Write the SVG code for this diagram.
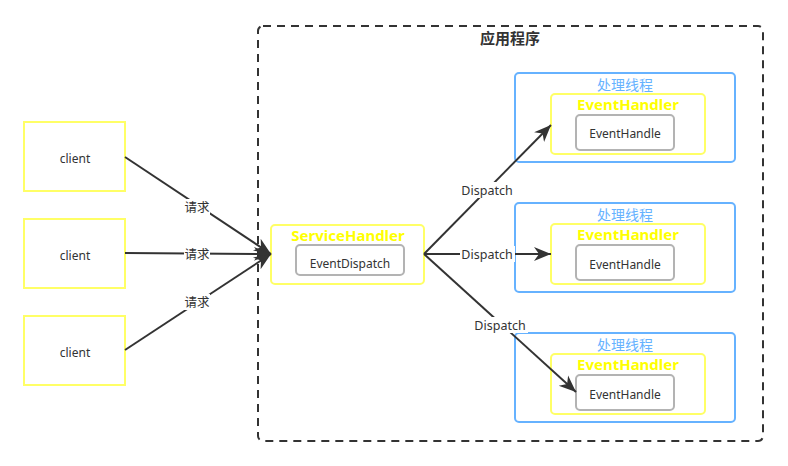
<svg xmlns="http://www.w3.org/2000/svg" width="788" height="466" viewBox="0 0 788 466">
<style>
text{font-family:"Noto Sans","Noto Sans CJK SC",sans-serif;text-anchor:middle;dominant-baseline:central}
.client{fill:#fff;stroke:#ffff66;stroke-width:2}
.yel{fill:#fff;stroke:#ffff66;stroke-width:2}
.blue{fill:#fff;stroke:#66b2ff;stroke-width:2}
.gray{fill:#fff;stroke:#b3b3b3;stroke-width:2}
.t12{font-size:12px;fill:#333}
.yt{font-size:15px;font-weight:bold;fill:#ffff00}
.bt{font-size:14px;fill:#66b2ff}
.edge{stroke:#333;stroke-width:2;fill:none}
.lbl{font-size:12.5px;fill:#333}
.lblbg{fill:#fff}
</style>
<defs>
<marker id="ahb" markerWidth="18" markerHeight="18" refX="17" refY="9" orient="auto" markerUnits="userSpaceOnUse" viewBox="0 0 18 18">
<path d="M0,2 L17,9 L0,16 L5,9 Z" fill="#333"/>
</marker>
</defs>
<g id="app">
<rect x="258" y="26" width="505" height="415" rx="5" fill="none" stroke="#333" stroke-width="2" stroke-dasharray="8 6"/>
<text x="510" y="38" style="font-size:15px;font-weight:bold;fill:#333">应用程序</text>
</g>
<g id="client1"><rect class="client" x="24" y="122" width="101" height="69"/><text class="t12" x="75" y="158">client</text></g>
<g id="client2"><rect class="client" x="24" y="219" width="101" height="69"/><text class="t12" x="75" y="255">client</text></g>
<g id="client3"><rect class="client" x="24" y="316" width="101" height="69"/><text class="t12" x="75" y="352">client</text></g>
<g id="serviceHandler">
<rect class="yel" x="271" y="225" width="153" height="59" rx="4"/>
<text class="yt" x="348" y="235">ServiceHandler</text>
<rect class="gray" x="296" y="245" width="108" height="30" rx="4"/>
<text class="t12" x="350" y="263">EventDispatch</text>
</g>
<g id="thread1">
<rect class="blue" x="515" y="73" width="220" height="89" rx="4"/>
<text class="bt" x="625" y="84">处理线程</text>
<rect class="yel" x="551" y="94" width="154" height="60" rx="4"/>
<text class="yt" x="628" y="104">EventHandler</text>
<rect class="gray" x="576" y="115" width="98" height="35" rx="4"/>
<text class="t12" x="625" y="133">EventHandle</text>
</g>
<g id="thread2">
<rect class="blue" x="515" y="203" width="220" height="89" rx="4"/>
<text class="bt" x="625" y="214">处理线程</text>
<rect class="yel" x="551" y="224" width="154" height="60" rx="4"/>
<text class="yt" x="628" y="234">EventHandler</text>
<rect class="gray" x="576" y="245" width="98" height="35" rx="4"/>
<text class="t12" x="625" y="264">EventHandle</text>
</g>
<g id="thread3">
<rect class="blue" x="515" y="333" width="220" height="89" rx="4"/>
<text class="bt" x="625" y="344">处理线程</text>
<rect class="yel" x="551" y="354" width="154" height="60" rx="4"/>
<text class="yt" x="628" y="364">EventHandler</text>
<rect class="gray" x="576" y="375" width="98" height="35" rx="4"/>
<text class="t12" x="625" y="394">EventHandle</text>
</g>
<g id="connectors">
<path class="edge" d="M125,157 L271,254" marker-end="url(#ahb)"/>
<path class="edge" d="M125,253 L271,254" marker-end="url(#ahb)"/>
<path class="edge" d="M125,350 L271,254" marker-end="url(#ahb)"/>
<path class="edge" d="M424,254 L551,125" marker-end="url(#ahb)"/>
<path class="edge" d="M424,254 L551,254" marker-end="url(#ahb)"/>
<path class="edge" d="M424,254 L576,392" marker-end="url(#ahb)"/>
<rect class="lblbg" x="184" y="199" width="26" height="16"/>
<text class="lbl" x="197" y="207">请求</text>
<rect class="lblbg" x="184" y="246" width="26" height="16"/>
<text class="lbl" x="197" y="254">请求</text>
<rect class="lblbg" x="184" y="294" width="26" height="16"/>
<text class="lbl" x="197" y="302">请求</text>
<rect class="lblbg" x="460" y="182" width="55" height="16"/>
<text class="lbl" x="487" y="190">Dispatch</text>
<rect class="lblbg" x="460" y="246" width="55" height="16"/>
<text class="lbl" x="487" y="254">Dispatch</text>
<rect class="lblbg" x="473" y="317" width="55" height="16"/>
<text class="lbl" x="500" y="325">Dispatch</text>
</g>
</svg>
